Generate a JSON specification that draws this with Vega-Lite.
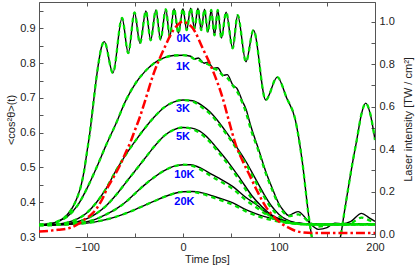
{
  "$schema": "https://vega.github.io/schema/vega-lite/v6.json",
  "width": 336,
  "height": 235,
  "autosize": {"type": "none"},
  "padding": {"left": 39, "top": 2, "right": 40, "bottom": 28},
  "config": {
    "view": {"stroke": null},
    "axis": {
      "grid": false,
      "domainColor": "#555",
      "tickColor": "#555",
      "labelColor": "#222",
      "titleColor": "#222",
      "labelFont": "Liberation Sans",
      "titleFont": "Liberation Sans",
      "labelFontSize": 11,
      "titleFontSize": 11,
      "titleFontWeight": "normal",
      "labelFlush": false,
      "labelOverlap": false,
      "tickSize": -4,
      "labelPadding": 8
    }
  },
  "datasets": {
    "curves": [
      {"c":"0K","t":-150,"a":0.335,"b":0.335},{"c":"0K","t":-140,"a":0.337,"b":0.337},{"c":"0K","t":-130,"a":0.345,"b":0.345},{"c":"0K","t":-122,"a":0.36,"b":0.36},{"c":"0K","t":-115,"a":0.385,"b":0.385},{"c":"0K","t":-110,"a":0.415,"b":0.415},{"c":"0K","t":-106,"a":0.45,"b":0.45},{"c":"0K","t":-103,"a":0.49,"b":0.49},{"c":"0K","t":-100,"a":0.545,"b":0.545},{"c":"0K","t":-97,"a":0.6,"b":0.6},{"c":"0K","t":-94,"a":0.67,"b":0.67},{"c":"0K","t":-91,"a":0.74,"b":0.74},{"c":"0K","t":-88,"a":0.8,"b":0.8},{"c":"0K","t":-85,"a":0.845,"b":0.845},{"c":"0K","t":-82,"a":0.862,"b":0.862},{"c":"0K","t":-73,"a":0.772,"b":0.772},{"c":"0K","t":-63.5,"a":0.93,"b":0.93},{"c":"0K","t":-57,"a":0.829,"b":0.829},{"c":"0K","t":-50.5,"a":0.946,"b":0.946},{"c":"0K","t":-44.8,"a":0.857,"b":0.857},{"c":"0K","t":-38.6,"a":0.95,"b":0.95},{"c":"0K","t":-33.7,"a":0.866,"b":0.866},{"c":"0K","t":-28.2,"a":0.953,"b":0.953},{"c":"0K","t":-23.4,"a":0.868,"b":0.868},{"c":"0K","t":-17.9,"a":0.955,"b":0.955},{"c":"0K","t":-13.8,"a":0.876,"b":0.876},{"c":"0K","t":-9.3,"a":0.957,"b":0.957},{"c":"0K","t":-4.8,"a":0.886,"b":0.886},{"c":"0K","t":0,"a":0.957,"b":0.957},{"c":"0K","t":3.8,"a":0.895,"b":0.895},{"c":"0K","t":8,"a":0.958,"b":0.958},{"c":"0K","t":12,"a":0.9,"b":0.9},{"c":"0K","t":15.5,"a":0.958,"b":0.958},{"c":"0K","t":19,"a":0.895,"b":0.895},{"c":"0K","t":22.4,"a":0.955,"b":0.955},{"c":"0K","t":25.9,"a":0.889,"b":0.889},{"c":"0K","t":29.4,"a":0.953,"b":0.953},{"c":"0K","t":32.8,"a":0.88,"b":0.88},{"c":"0K","t":36.2,"a":0.953,"b":0.953},{"c":"0K","t":40,"a":0.872,"b":0.872},{"c":"0K","t":44.9,"a":0.947,"b":0.947},{"c":"0K","t":51.7,"a":0.843,"b":0.843},{"c":"0K","t":56.9,"a":0.938,"b":0.938},{"c":"0K","t":65.6,"a":0.804,"b":0.804},{"c":"0K","t":73.4,"a":0.895,"b":0.895},{"c":"0K","t":86.2,"a":0.694,"b":0.694},{"c":"0K","t":98.2,"a":0.76,"b":0.76},{"c":"0K","t":108,"a":0.7,"b":0.7},{"c":"0K","t":117,"a":0.637,"b":0.637},{"c":"0K","t":124,"a":0.522,"b":0.522},{"c":"0K","t":131,"a":0.359,"b":0.359},{"c":"0K","t":136,"a":0.27,"b":0.27},{"c":"0K","t":145,"a":0.2,"b":0.2},{"c":"0K","t":155,"a":0.22,"b":0.22},{"c":"0K","t":162,"a":0.28,"b":0.28},{"c":"0K","t":164,"a":0.3,"b":0.3},{"c":"0K","t":168,"a":0.37,"b":0.37},{"c":"0K","t":172.4,"a":0.445,"b":0.445},{"c":"0K","t":177,"a":0.52,"b":0.52},{"c":"0K","t":181,"a":0.579,"b":0.579},{"c":"0K","t":186,"a":0.655,"b":0.655},{"c":"0K","t":190.3,"a":0.685,"b":0.685},{"c":"0K","t":194.8,"a":0.657,"b":0.657},{"c":"0K","t":200,"a":0.579,"b":0.579},

      {"c":"1K","t":-150,"a":0.336,"b":0.336},{"c":"1K","t":-140,"a":0.338,"b":0.338},{"c":"1K","t":-130,"a":0.345,"b":0.345},{"c":"1K","t":-120,"a":0.36,"b":0.36},{"c":"1K","t":-110,"a":0.39,"b":0.39},{"c":"1K","t":-100,"a":0.44,"b":0.44},{"c":"1K","t":-90,"a":0.5,"b":0.5},{"c":"1K","t":-80,"a":0.565,"b":0.565},{"c":"1K","t":-70,"a":0.625,"b":0.625},{"c":"1K","t":-60,"a":0.69,"b":0.69},{"c":"1K","t":-50,"a":0.74,"b":0.74},{"c":"1K","t":-40,"a":0.775,"b":0.775},{"c":"1K","t":-30,"a":0.8,"b":0.8},{"c":"1K","t":-20,"a":0.815,"b":0.815},{"c":"1K","t":-10,"a":0.822,"b":0.822},{"c":"1K","t":0,"a":0.823,"b":0.823},{"c":"1K","t":8,"a":0.82,"b":0.818},{"c":"1K","t":12,"a":0.812,"b":0.812},{"c":"1K","t":16,"a":0.815,"b":0.81},{"c":"1K","t":22,"a":0.8,"b":0.8},{"c":"1K","t":26,"a":0.803,"b":0.797},{"c":"1K","t":32,"a":0.785,"b":0.785},{"c":"1K","t":36,"a":0.787,"b":0.78},{"c":"1K","t":42,"a":0.765,"b":0.763},{"c":"1K","t":46,"a":0.767,"b":0.758},{"c":"1K","t":52,"a":0.737,"b":0.735},{"c":"1K","t":56,"a":0.728,"b":0.72},{"c":"1K","t":62,"a":0.69,"b":0.685},{"c":"1K","t":66,"a":0.665,"b":0.655},{"c":"1K","t":70,"a":0.625,"b":0.615},{"c":"1K","t":79,"a":0.55,"b":0.545},{"c":"1K","t":86,"a":0.49,"b":0.485},{"c":"1K","t":93,"a":0.44,"b":0.435},{"c":"1K","t":100,"a":0.395,"b":0.39},{"c":"1K","t":105,"a":0.375,"b":0.37},{"c":"1K","t":110,"a":0.362,"b":0.36},{"c":"1K","t":115,"a":0.368,"b":0.362},{"c":"1K","t":120,"a":0.373,"b":0.365},{"c":"1K","t":126,"a":0.36,"b":0.355},{"c":"1K","t":132,"a":0.34,"b":0.342},{"c":"1K","t":141,"a":0.322,"b":0.33},{"c":"1K","t":150,"a":0.327,"b":0.333},{"c":"1K","t":158,"a":0.34,"b":0.338},{"c":"1K","t":166,"a":0.338,"b":0.335},{"c":"1K","t":175,"a":0.345,"b":0.34},{"c":"1K","t":186,"a":0.368,"b":0.356},{"c":"1K","t":194,"a":0.355,"b":0.348},{"c":"1K","t":200,"a":0.345,"b":0.342},

      {"c":"3K","t":-150,"a":0.334,"b":0.334},{"c":"3K","t":-135,"a":0.336,"b":0.336},{"c":"3K","t":-120,"a":0.342,"b":0.342},{"c":"3K","t":-110,"a":0.352,"b":0.352},{"c":"3K","t":-100,"a":0.37,"b":0.37},{"c":"3K","t":-90,"a":0.4,"b":0.4},{"c":"3K","t":-80,"a":0.44,"b":0.44},{"c":"3K","t":-70,"a":0.49,"b":0.49},{"c":"3K","t":-60,"a":0.535,"b":0.535},{"c":"3K","t":-50,"a":0.575,"b":0.575},{"c":"3K","t":-40,"a":0.612,"b":0.612},{"c":"3K","t":-30,"a":0.645,"b":0.645},{"c":"3K","t":-20,"a":0.672,"b":0.672},{"c":"3K","t":-10,"a":0.688,"b":0.688},{"c":"3K","t":0,"a":0.694,"b":0.694},{"c":"3K","t":10,"a":0.692,"b":0.69},{"c":"3K","t":20,"a":0.678,"b":0.672},{"c":"3K","t":28,"a":0.66,"b":0.655},{"c":"3K","t":38,"a":0.628,"b":0.622},{"c":"3K","t":48,"a":0.59,"b":0.585},{"c":"3K","t":58,"a":0.55,"b":0.544},{"c":"3K","t":66,"a":0.515,"b":0.508},{"c":"3K","t":75,"a":0.47,"b":0.462},{"c":"3K","t":84,"a":0.425,"b":0.418},{"c":"3K","t":92,"a":0.39,"b":0.383},{"c":"3K","t":100,"a":0.365,"b":0.36},{"c":"3K","t":108,"a":0.35,"b":0.346},{"c":"3K","t":116,"a":0.342,"b":0.34},{"c":"3K","t":125,"a":0.338,"b":0.337},{"c":"3K","t":140,"a":0.336,"b":0.336},{"c":"3K","t":160,"a":0.337,"b":0.336},{"c":"3K","t":180,"a":0.338,"b":0.337},{"c":"3K","t":200,"a":0.338,"b":0.337},

      {"c":"5K","t":-150,"a":0.334,"b":0.334},{"c":"5K","t":-135,"a":0.335,"b":0.335},{"c":"5K","t":-120,"a":0.339,"b":0.339},{"c":"5K","t":-110,"a":0.344,"b":0.344},{"c":"5K","t":-100,"a":0.353,"b":0.353},{"c":"5K","t":-90,"a":0.368,"b":0.368},{"c":"5K","t":-80,"a":0.39,"b":0.39},{"c":"5K","t":-70,"a":0.42,"b":0.42},{"c":"5K","t":-60,"a":0.455,"b":0.455},{"c":"5K","t":-50,"a":0.49,"b":0.49},{"c":"5K","t":-40,"a":0.525,"b":0.525},{"c":"5K","t":-30,"a":0.56,"b":0.56},{"c":"5K","t":-20,"a":0.59,"b":0.59},{"c":"5K","t":-10,"a":0.608,"b":0.608},{"c":"5K","t":0,"a":0.615,"b":0.615},{"c":"5K","t":8,"a":0.614,"b":0.612},{"c":"5K","t":17,"a":0.605,"b":0.6},{"c":"5K","t":27,"a":0.582,"b":0.576},{"c":"5K","t":36,"a":0.553,"b":0.547},{"c":"5K","t":48,"a":0.512,"b":0.505},{"c":"5K","t":60,"a":0.466,"b":0.458},{"c":"5K","t":72,"a":0.418,"b":0.41},{"c":"5K","t":82,"a":0.388,"b":0.38},{"c":"5K","t":93,"a":0.362,"b":0.356},{"c":"5K","t":103,"a":0.35,"b":0.345},{"c":"5K","t":115,"a":0.342,"b":0.339},{"c":"5K","t":130,"a":0.338,"b":0.336},{"c":"5K","t":150,"a":0.336,"b":0.336},{"c":"5K","t":175,"a":0.337,"b":0.336},{"c":"5K","t":200,"a":0.337,"b":0.336},

      {"c":"10K","t":-150,"a":0.334,"b":0.334},{"c":"10K","t":-130,"a":0.335,"b":0.335},{"c":"10K","t":-115,"a":0.338,"b":0.338},{"c":"10K","t":-100,"a":0.344,"b":0.344},{"c":"10K","t":-90,"a":0.352,"b":0.352},{"c":"10K","t":-80,"a":0.365,"b":0.365},{"c":"10K","t":-70,"a":0.38,"b":0.38},{"c":"10K","t":-60,"a":0.4,"b":0.4},{"c":"10K","t":-50,"a":0.425,"b":0.425},{"c":"10K","t":-40,"a":0.45,"b":0.45},{"c":"10K","t":-30,"a":0.472,"b":0.472},{"c":"10K","t":-20,"a":0.49,"b":0.49},{"c":"10K","t":-10,"a":0.503,"b":0.503},{"c":"10K","t":0,"a":0.508,"b":0.508},{"c":"10K","t":8,"a":0.508,"b":0.506},{"c":"10K","t":17,"a":0.5,"b":0.496},{"c":"10K","t":30,"a":0.48,"b":0.474},{"c":"10K","t":40,"a":0.465,"b":0.458},{"c":"10K","t":52,"a":0.445,"b":0.438},{"c":"10K","t":65,"a":0.415,"b":0.407},{"c":"10K","t":78,"a":0.39,"b":0.382},{"c":"10K","t":87,"a":0.37,"b":0.364},{"c":"10K","t":100,"a":0.35,"b":0.346},{"c":"10K","t":112,"a":0.342,"b":0.34},{"c":"10K","t":125,"a":0.338,"b":0.337},{"c":"10K","t":150,"a":0.336,"b":0.336},{"c":"10K","t":175,"a":0.337,"b":0.336},{"c":"10K","t":200,"a":0.336,"b":0.336},

      {"c":"20K","t":-150,"a":0.334,"b":0.334},{"c":"20K","t":-130,"a":0.335,"b":0.335},{"c":"20K","t":-115,"a":0.337,"b":0.337},{"c":"20K","t":-100,"a":0.34,"b":0.34},{"c":"20K","t":-85,"a":0.347,"b":0.347},{"c":"20K","t":-70,"a":0.358,"b":0.358},{"c":"20K","t":-55,"a":0.373,"b":0.373},{"c":"20K","t":-45,"a":0.385,"b":0.385},{"c":"20K","t":-30,"a":0.403,"b":0.403},{"c":"20K","t":-15,"a":0.42,"b":0.42},{"c":"20K","t":0,"a":0.43,"b":0.43},{"c":"20K","t":10,"a":0.431,"b":0.43},{"c":"20K","t":20,"a":0.427,"b":0.424},{"c":"20K","t":31,"a":0.418,"b":0.414},{"c":"20K","t":42,"a":0.408,"b":0.403},{"c":"20K","t":52,"a":0.398,"b":0.393},{"c":"20K","t":66,"a":0.378,"b":0.373},{"c":"20K","t":80,"a":0.363,"b":0.358},{"c":"20K","t":97,"a":0.35,"b":0.346},{"c":"20K","t":110,"a":0.342,"b":0.34},{"c":"20K","t":125,"a":0.338,"b":0.337},{"c":"20K","t":150,"a":0.336,"b":0.336},{"c":"20K","t":175,"a":0.337,"b":0.336},{"c":"20K","t":200,"a":0.336,"b":0.336}
    ],
    "laser": [
      {"t":-150,"i":0.012},{"t":-140,"i":0.015},{"t":-130,"i":0.02},{"t":-117,"i":0.03},{"t":-110,"i":0.045},{"t":-103,"i":0.067},{"t":-96,"i":0.09},{"t":-90,"i":0.12},{"t":-84,"i":0.165},{"t":-79,"i":0.215},{"t":-72,"i":0.27},{"t":-65.5,"i":0.325},{"t":-60,"i":0.38},{"t":-55,"i":0.43},{"t":-50,"i":0.49},{"t":-45,"i":0.55},{"t":-40,"i":0.62},{"t":-31,"i":0.75},{"t":-20,"i":0.87},{"t":-10,"i":0.96},{"t":-3,"i":0.995},{"t":0,"i":1.0},{"t":5,"i":0.99},{"t":10,"i":0.97},{"t":21,"i":0.87},{"t":31,"i":0.77},{"t":41,"i":0.645},{"t":48,"i":0.53},{"t":55,"i":0.42},{"t":62,"i":0.345},{"t":69,"i":0.28},{"t":77,"i":0.205},{"t":86,"i":0.13},{"t":95,"i":0.08},{"t":103,"i":0.048},{"t":110,"i":0.03},{"t":117,"i":0.015},{"t":124,"i":0.008},{"t":135,"i":0.005},{"t":200,"i":0.005}
    ],
    "labels": [
      {"t":0.5,"v":0.871,"label":"0K"},
      {"t":0,"v":0.79,"label":"1K"},
      {"t":0,"v":0.668,"label":"3K"},
      {"t":0,"v":0.589,"label":"5K"},
      {"t":1.5,"v":0.479,"label":"10K"},
      {"t":1.5,"v":0.402,"label":"20K"}
    ]
  },
  "resolve": {"scale": {"y": "independent"}, "axis": {"x": "independent", "y": "independent"}},
  "layer": [
    {
      "data": {"name": "curves"},
      "mark": {"type": "line", "color": "#000000", "strokeWidth": 1.4, "interpolate": "monotone", "clip": true},
      "encoding": {
        "x": {"field": "t", "type": "quantitative", "scale": {"domain": [-150, 200], "nice": false, "zero": false},
          "axis": {"orient": "bottom", "title": "Time [ps]", "values": [-150,-100,-50,0,50,100,150,200],
            "labelExpr": "datum.value % 100 == 0 ? datum.label : ''", "titlePadding": 1}},
        "y": {"field": "a", "type": "quantitative", "scale": {"domain": [0.3, 0.976], "nice": false, "zero": false},
          "axis": {"orient": "left", "title": "<cos²θ>(t)", "values": [0.3,0.35,0.4,0.45,0.5,0.55,0.6,0.65,0.7,0.75,0.8,0.85,0.9,0.95],
            "labelExpr": "round(datum.value*20) % 2 == 0 ? format(datum.value, '.1f') : ''", "titlePadding": 3}},
        "detail": {"field": "c"}
      }
    },
    {
      "data": {"name": "curves"},
      "mark": {"type": "line", "color": "#00e000", "strokeWidth": 2.3, "strokeDash": [4.5, 4], "interpolate": "monotone", "clip": true},
      "encoding": {
        "x": {"field": "t", "type": "quantitative", "scale": {"domain": [-150, 200], "nice": false, "zero": false}, "axis": null},
        "y": {"field": "b", "type": "quantitative", "scale": {"domain": [0.3, 0.976], "nice": false, "zero": false}, "axis": null},
        "detail": {"field": "c"}
      }
    },
    {
      "data": {"name": "laser"},
      "mark": {"type": "line", "color": "#ff0000", "strokeWidth": 2.5, "strokeDash": [9, 3, 2.5, 3], "interpolate": "monotone", "clip": true},
      "encoding": {
        "x": {"field": "t", "type": "quantitative", "scale": {"domain": [-150, 200], "nice": false, "zero": false}, "axis": null},
        "y": {"field": "i", "type": "quantitative", "scale": {"domain": [-0.014, 1.0925], "nice": false, "zero": false},
          "axis": {"orient": "right", "title": "Laser intensity [TW / cm²]", "titleAngle": 270,
            "titleX": 33, "titleY": 117, "titleAlign": "center", "titleBaseline": "middle",
            "values": [0,0.1,0.2,0.3,0.4,0.5,0.6,0.7,0.8,0.9,1.0],
            "labelExpr": "round(datum.value*10) % 2 == 0 ? format(datum.value, '.1f') : ''"}}
      }
    },
    {
      "data": {"name": "labels"},
      "mark": {"type": "text", "color": "#0000ff", "font": "Liberation Sans", "fontWeight": "bold", "fontSize": 11, "align": "center", "baseline": "middle"},
      "encoding": {
        "x": {"field": "t", "type": "quantitative", "scale": {"domain": [-150, 200], "nice": false, "zero": false},
          "axis": {"orient": "top", "title": null, "labels": false, "values": [-150,-100,-50,0,50,100,150,200]}},
        "y": {"field": "v", "type": "quantitative", "scale": {"domain": [0.3, 0.976], "nice": false, "zero": false}, "axis": null},
        "text": {"field": "label"}
      }
    }
  ]
}
